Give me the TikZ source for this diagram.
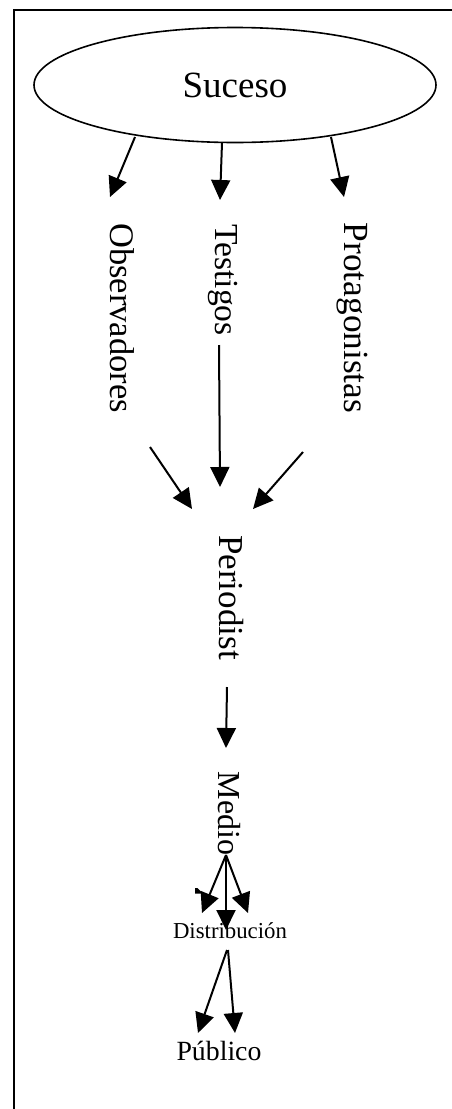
\documentclass[tikz,border=0pt]{standalone}
\usepackage{fontspec}
\setmainfont{Liberation Serif}
\usetikzlibrary{arrows.meta,calc,shapes.geometric}
\tikzset{
  arr/.style={line width=2pt,-{Triangle[length=20pt,width=19pt]}},
  vtext/.style={rotate=-90,anchor=base,inner sep=0pt},
  htext/.style={anchor=base,inner sep=0pt},
}
\newcommand{\fs}[1]{\fontsize{#1}{#1}\selectfont}
\begin{document}
\begin{tikzpicture}[x=1pt,y=-1pt]
\useasboundingbox (0,0) rectangle (452,1109);
\draw[line width=2pt] (14,1120) -- (14,10) -- (470,10);
\node[draw,ellipse,line width=1.6pt,minimum width=402pt,minimum height=115pt,inner sep=0pt,font=\fs{37}] (suc) at (235,85) {Suceso};
\node[vtext,font=\fs{34.5}] (obs) at (110,318) {Observadores};
\node[vtext,font=\fs{33.6}] (tes) at (215,280) {Testigos};
\node[vtext,font=\fs{35.3}] (pro) at (344,318) {Protagonistas};
\node[vtext,font=\fs{35}] (per) at (219,597.5) {Periodist};
\node[vtext,font=\fs{32}] (med) at (218,813.5) {Medio};
\node[htext,font=\fs{22.8}] (dis) at (230,938) {Distribución};
\node[htext,font=\fs{27.8}] (pub) at (219,1060) {Público};
% Suceso -> three
\draw[arr] ($(suc.center)+(-100,52)$) -- ($(obs.base)+(0,-121)$);
\draw[arr] ($(suc.center)+(-13,58)$) -- ($(tes.base)+(5,-80)$);
\draw[arr] ($(suc.center)+(96,52)$) -- ($(pro.base)+(0,-121)$);
% three -> Periodist
\draw[arr] ($(tes.base)+(4,65)$) -- ($(per.base)+(1,-110.5)$);
\draw[arr] ($(obs.base)+(40,129)$) -- ($(per.base)+(-27,-88.5)$);
\draw[arr] ($(pro.base)+(-41,134)$) -- ($(per.base)+(34,-88.5)$);
% Periodist -> Medio
\draw[arr] ($(per.base)+(8,89.5)$) -- ($(med.base)+(8,-65.5)$);
% Medio -> Distribucion
\draw[arr] ($(med.base)+(8,41.5)$) -- ($(dis.base)+(-28,-25)$);
\draw[arr] ($(med.base)+(8,41.5)$) -- ($(dis.base)+(-4,-8)$);
\draw[arr] ($(med.base)+(8,41.5)$) -- ($(dis.base)+(18,-25)$);
\fill (195,888) -- (197.5,888) -- (203,893.5) -- (195,893.5) -- cycle;
% Distribucion -> Publico
\draw[arr] ($(dis.base)+(-3,12)$) -- ($(pub.base)+(-21,-27)$);
\draw[arr] ($(dis.base)+(-2,12)$) -- ($(pub.base)+(16,-27)$);
\end{tikzpicture}
\end{document}
